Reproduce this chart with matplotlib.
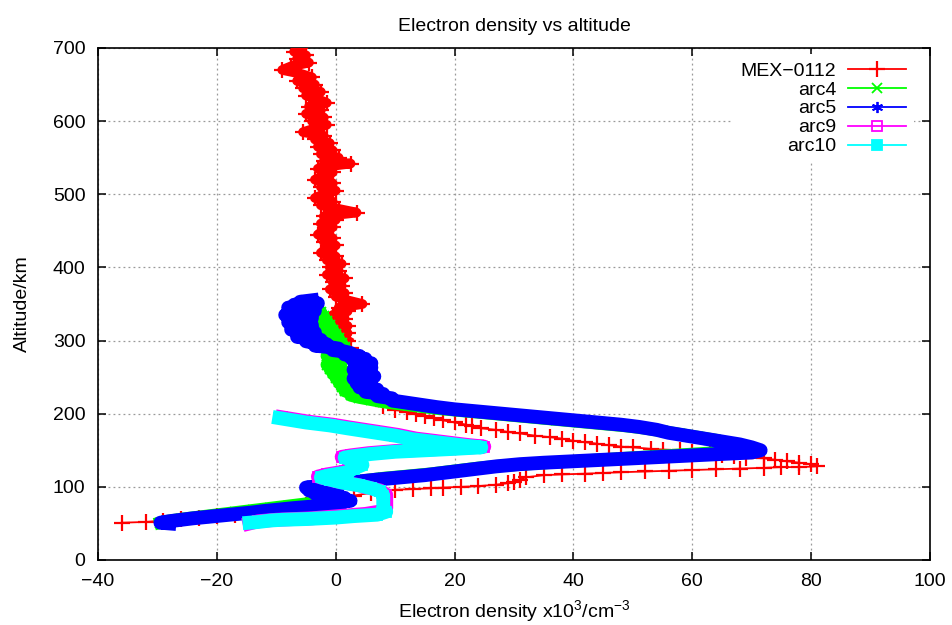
import matplotlib
matplotlib.use("Agg")
import matplotlib.pyplot as plt

plt.rcParams['font.family'] = ['Liberation Sans', 'DejaVu Sans']
plt.rcParams['mathtext.default'] = 'regular'

# ---------------- data (altitude km, density x10^3 cm^-3) ----------------
mex_alt = [700, 695, 690, 685, 680, 675, 670, 665, 660, 655, 650, 645, 640, 635, 630,
           625, 620, 615, 610, 605, 600, 595, 590, 585, 580, 575, 570, 565, 560, 555,
           550, 545, 542, 538, 535, 530, 525, 520, 515, 510, 505, 500, 495, 490, 485,
           480, 475, 470, 465, 460, 455, 450, 445, 440, 435, 430, 425, 420, 415, 410,
           405, 400, 395, 390, 385, 380, 375, 370, 365, 360, 355, 350, 345, 340, 335,
           330, 325, 320, 315, 310, 305, 300, 290, 280, 270, 260, 250, 240, 230, 220,
           210, 205, 203, 200, 197, 194, 191, 188, 185, 183, 180, 178, 175, 173, 170,
           168, 166, 163, 161, 159, 157, 155, 154, 152, 151, 150, 148, 146, 144, 142,
           140, 139, 137, 135, 133, 131, 128, 127, 127, 126, 125, 124, 123, 122, 121,
           120, 119, 118, 117, 116, 113, 110, 107, 105, 103, 101, 100, 99, 98, 97,
           96, 95, 92, 88, 84, 81, 78, 75, 72, 70, 67, 65, 62, 60, 58, 56, 54, 52, 51]
mex_ne = [-6.0, -7.0, -5.0, -6.5, -4.5, -7.5, -9.0, -6.0, -4.0, -6.5, -3.5, -5.5, -2.5, -5.0, -3.0,
          -1.5, -4.5, -2.5, -5.0, -2.0, -4.0, -1.5, -3.5, -5.5, -2.0, -3.5, -1.0, -3.0, -0.5, -2.5,
          0.5, -2.0, 2.5, -1.5, -3.0, -0.5, -2.0, -3.5, -0.5, -2.5, 0.0, -2.0, -3.5, -0.5, -2.5,
          0.5, 3.5, -2.0, 0.0, -2.5, -0.5, -2.0, -3.0, -0.5, -2.0, 0.0, -1.5, -2.5, 0.0, -1.5,
          1.0, -1.0, 0.5, -1.5, 1.5, -0.5, 1.0, -1.0, 1.5, 0.0, 2.0, 4.5, 0.5, 2.0, -0.5,
          1.5, 0.0, 2.0, 0.5, 2.0, 1.0, 2.0, 2.5, 3.0, 3.5, 4.0, 4.5, 5.0, 6.0, 7.0,
          8.0, 10.0, 12.0, 13.5, 15.0, 16.5, 18.0, 20.0, 22.0, 23.0, 24.5, 27.0, 29.0, 31.0, 33.5,
          36.0, 38.0, 40.0, 42.0, 44.0, 46.0, 48.0, 50.0, 53.0, 55.0, 58.0, 60.0, 63.0, 65.0, 67.0,
          69.0, 72.0, 74.0, 76.0, 78.0, 80.0, 81.0, 78.0, 75.0, 72.0, 68.0, 64.0, 60.0, 56.0, 52.0,
          48.0, 45.0, 42.0, 38.0, 35.0, 32.0, 31.0, 30.0, 29.0, 27.0, 24.0, 21.0, 18.0, 16.0, 13.0,
          10.0, 8.0, 6.0, 3.0, 1.0, -1.0, -3.0, -5.0, -7.0, -9.0, -11.0, -14.0, -17.0, -20.0, -23.0,
          -26.0, -29.0, -32.0, -36.0]

arc4_alt = [345, 342, 339, 336, 333, 330, 327, 324, 321, 318, 315, 312, 309, 306, 303,
            300, 297, 294, 291, 288, 285, 282, 279, 276, 273, 270, 267, 264, 261, 258,
            255, 252, 249, 246, 243, 240, 237, 234, 231, 228, 225, 222, 219, 216, 213,
            210, 207, 204, 201, 198, 195, 192, 189, 186, 183, 180, 176, 172, 168, 164,
            160, 156, 152, 149, 147, 145, 143, 141, 139, 137, 135, 133, 131, 129, 126,
            122, 118, 115, 112, 109, 106, 103, 100, 96, 92, 88, 84, 80, 77, 74,
            71, 68, 65, 62, 59, 56, 53, 51]
arc4_ne = [-3.0, -4.5, -2.5, -4.0, -2.0, -3.5, -1.5, -3.0, -1.0, -2.5, -0.5, -2.0, 0.0, -1.0, 0.5,
           -0.5, 1.0, 0.0, 1.5, 0.5, -0.5, 1.0, -1.5, 0.0, -1.0, 1.0, -1.5, 0.5, -1.0, 1.5,
           -0.5, 1.0, 0.0, 2.0, 0.5, 2.5, 1.0, 2.5, 1.5, 3.0, 2.5, 4.0, 6.0, 8.0, 11.0,
           14.0, 17.0, 21.0, 25.0, 29.0, 33.0, 37.0, 41.0, 45.0, 49.0, 52.0, 55.0, 58.0, 61.0, 64.0,
           66.0, 68.0, 69.5, 68.0, 64.0, 60.0, 56.0, 52.0, 48.0, 44.0, 40.0, 36.0, 32.0, 28.0, 24.0,
           20.0, 16.0, 12.0, 8.0, 5.0, 2.0, 0.0, -2.0, -3.0, -2.0, -3.5, -2.0, -3.0, -5.0, -8.0,
           -11.0, -14.0, -17.0, -20.0, -23.0, -26.0, -28.5, -29.5]

arc5_alt = [355, 353, 351, 349, 347, 345, 343, 341, 339, 337, 335, 333, 331, 329, 327,
            325, 323, 321, 319, 317, 315, 313, 311, 309, 307, 305, 303, 301, 299, 297,
            295, 293, 291, 289, 287, 285, 283, 281, 279, 277, 275, 272, 269, 266, 263,
            260, 257, 254, 251, 248, 245, 242, 239, 236, 233, 230, 227, 224, 221, 218,
            215, 212, 209, 206, 203, 200, 197, 194, 191, 188, 185, 182, 178, 174, 170,
            166, 162, 158, 154, 150, 147, 145, 143, 141, 139, 137, 135, 133, 131, 128,
            124, 120, 116, 113, 110, 107, 104, 101, 99, 97, 95, 93, 91, 89, 87,
            85, 83, 81, 79, 77, 75, 73, 71, 69, 67, 65, 63, 61, 59, 57,
            55, 53, 51, 50]
arc5_ne = [-4.0, -6.0, -3.0, -7.0, -5.0, -8.0, -6.0, -3.5, -7.5, -5.0, -8.5, -6.0, -4.0, -7.5, -5.5,
           -8.0, -6.0, -4.0, -7.0, -5.0, -7.5, -5.5, -3.5, -6.0, -4.5, -6.5, -4.0, -2.5, -5.0, -3.0,
           -1.5, -3.5, -1.0, 0.5, -0.5, 1.5, 2.5, 1.5, 4.0, 2.5, 5.0, 3.0, 6.0, 3.5, 6.0,
           3.0, 5.5, 3.5, 6.5, 3.0, 5.5, 3.5, 6.0, 4.0, 7.0, 5.0, 8.0, 7.0, 9.5, 9.5,
           12.0, 14.5, 17.0, 20.0, 24.0, 28.0, 32.0, 36.0, 40.0, 44.0, 48.0, 51.0, 54.0, 56.0, 59.0,
           62.0, 65.0, 68.0, 70.0, 71.5, 70.0, 65.0, 60.0, 55.0, 50.0, 45.0, 40.0, 35.0, 31.0, 27.0,
           23.0, 19.0, 15.0, 11.0, 7.0, 3.5, 0.0, -3.0, -5.0, -2.0, -4.5, -1.0, -3.5, 0.5, -2.0,
           1.5, -1.0, 2.5, 0.0, 1.0, -1.5, -4.0, -7.0, -9.5, -12.0, -14.0, -16.5, -19.0, -21.5, -24.0,
           -26.0, -28.0, -29.5, -28.0]

arc9_alt = [195, 189, 185, 181, 176, 171, 166, 161, 157, 155, 153, 151, 149, 146, 143,
            141, 136, 131, 126, 121, 117, 114, 111, 107, 103, 99, 95, 89, 83, 77,
            71, 67, 63, 61, 59, 57, 56, 55, 53, 50]
arc9_ne = [-9.0, -4.5, -0.5, 2.5, 6.5, 10.5, 13.5, 18.5, 22.5, 25.0, 20.5, 15.5, 10.0, 5.5, 2.5,
           1.0, 3.0, 4.0, 2.5, 1.5, -1.5, -3.0, -1.5, 0.5, 3.5, 5.5, 7.5, 8.5, 8.5, 8.5,
           8.5, 8.0, 5.0, 2.0, -1.0, -4.0, -7.0, -10.0, -13.0, -14.5]

arc10_alt = [194, 188, 184, 180, 175, 170, 165, 160, 156, 154, 152, 150, 148, 145, 142,
             140, 135, 130, 125, 120, 116, 113, 110, 106, 102, 98, 94, 88, 82, 76,
             70, 66, 62, 60, 58, 56, 55, 54, 52, 51]
arc10_ne = [-9.5, -5.0, -1.0, 2.0, 6.0, 10.0, 13.0, 18.0, 22.0, 24.5, 20.0, 15.0, 10.0, 6.0, 3.0,
            1.5, 3.5, 4.5, 3.0, 2.0, -1.0, -2.5, -1.0, 1.0, 4.0, 6.0, 7.5, 8.0, 8.0, 8.0,
            8.0, 8.5, 7.0, 3.0, 0.0, -5.0, -9.0, -11.0, -13.0, -14.5]

labels = ['MEX\u22120112', 'arc4', 'arc5', 'arc9', 'arc10']
xticks = [-40, -20, 0, 20, 40, 60, 80, 100]
yticks = [0, 100, 200, 300, 400, 500, 600, 700]

RED, GREEN, BLUE, MAG, CYAN = '#ff0000', '#00ff00', '#0000ff', '#ff00ff', '#00ffff'
ASTER = (6, 2, 0)
FS = 14

fig = plt.figure(figsize=(9.53, 6.25), dpi=100)
ax = fig.add_axes([98 / 953, 65 / 625, 832 / 953, 512 / 625])

# red: dense noisy upper part drawn as a band, then the full profile with markers
n_top = mex_alt.index(300) + 1
ax.plot(mex_ne[:n_top], mex_alt[:n_top], color=RED, lw=7, solid_joinstyle='round',
        zorder=3)
ax.plot(mex_ne, mex_alt, color=RED, lw=1.3, marker='+', ms=11, mew=1.6,
        label=labels[0], zorder=3)
# green
ax.plot(arc4_ne, arc4_alt, color=GREEN, lw=9, solid_joinstyle='round', zorder=4)
ax.plot(arc4_ne, arc4_alt, color=GREEN, lw=1.3, marker='x', ms=7, mew=1.3,
        label=labels[1], zorder=4)
# blue
ax.plot(arc5_ne, arc5_alt, color=BLUE, lw=10, solid_joinstyle='round', zorder=5)
ax.plot(arc5_ne, arc5_alt, color=BLUE, lw=1.3, marker=ASTER, ms=8, mew=1.3,
        label=labels[2], zorder=5)
# magenta
ax.plot(arc9_ne, arc9_alt, color=MAG, lw=10, solid_joinstyle='round', zorder=6)
ax.plot(arc9_ne, arc9_alt, color=MAG, lw=1.3, marker='s', ms=7, mfc='none', mew=1.3,
        label=labels[3], zorder=6)
# cyan
ax.plot(arc10_ne, arc10_alt, color=CYAN, lw=10, solid_joinstyle='round', zorder=7)
ax.plot(arc10_ne, arc10_alt, color=CYAN, lw=1.3, marker='s', ms=7, mew=1.3,
        label=labels[4], zorder=7)

ax.set_xlim(-40, 100)
ax.set_ylim(0, 700)
ax.set_xticks(xticks)
ax.set_yticks(yticks)
ax.set_xticklabels([f'{t}'.replace('-', '\u2212') for t in xticks])
ax.grid(True, color='#999999', linestyle=(0, (1.5, 2.5)), lw=0.9, zorder=0)
ax.set_axisbelow(True)
ax.tick_params(direction='in', top=True, right=True, length=6, width=1.1,
               labelsize=FS, pad=9)
for s in ax.spines.values():
    s.set_linewidth(1.2)

ax.set_title('Electron density vs altitude', fontsize=FS, pad=12)
ax.set_xlabel('Electron density x10$^{3}$/cm$^{-3}$', fontsize=FS, labelpad=6)
ax.set_ylabel('Altitude/km', fontsize=FS, labelpad=16)

leg = ax.legend(loc='upper right', bbox_to_anchor=(0.981, 0.988), borderaxespad=0,
                markerfirst=False, fontsize=FS, frameon=True,
                handlelength=3.0, handletextpad=0.6, labelspacing=0.07,
                borderpad=0.4, framealpha=1)
leg.get_frame().set_edgecolor('white')
leg.get_frame().set_facecolor('white')
leg.get_frame().set_linewidth(0)
leg.set_zorder(10)

fig.savefig('out.png', dpi=100)
